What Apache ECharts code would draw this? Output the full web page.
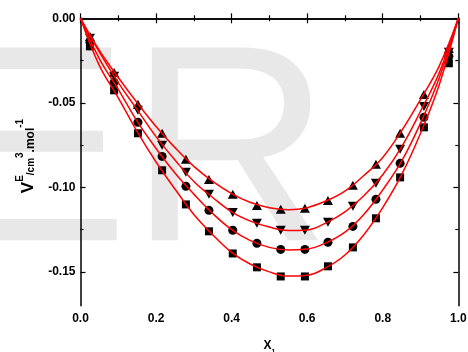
<!DOCTYPE html>
<html><head><meta charset="utf-8">
<script src="https://cdn.jsdelivr.net/npm/echarts@6/dist/echarts.min.js"></script>
<style>html,body{margin:0;padding:0;background:#fff}#c{width:468px;height:352px}</style>
</head><body><div id="c"></div>
<script>
// measured mole fractions
const xPoints = [0.025, 0.089, 0.152, 0.216, 0.279, 0.340, 0.403, 0.467, 0.530, 0.594, 0.655, 0.721, 0.782, 0.846, 0.909, 0.975];
// excess molar volumes for each series (cm3/mol)
const upTriangle   = [-0.0107, -0.0320, -0.0509, -0.0680, -0.0834, -0.0953, -0.1041, -0.1107, -0.1130, -0.1124, -0.1077, -0.0988, -0.0864, -0.0680, -0.0450, -0.0178];
const downTriangle = [-0.0118, -0.0343, -0.0544, -0.0751, -0.0911, -0.1041, -0.1148, -0.1213, -0.1254, -0.1254, -0.1207, -0.1112, -0.0976, -0.0775, -0.0521, -0.0201];
const circlePts    = [-0.0142, -0.0379, -0.0615, -0.0817, -0.0994, -0.1136, -0.1254, -0.1331, -0.1367, -0.1367, -0.1325, -0.1231, -0.1071, -0.0858, -0.0586, -0.0225];
const squarePts    = [-0.0166, -0.0426, -0.0680, -0.0899, -0.1101, -0.1260, -0.1391, -0.1473, -0.1527, -0.1527, -0.1467, -0.1355, -0.1183, -0.0941, -0.0645, -0.0266];
// fitted curves read at these x
const xCurve = [0, 0.05, 0.1, 0.15, 0.2, 0.25, 0.3, 0.35, 0.4, 0.45, 0.5, 0.55, 0.6, 0.65, 0.7, 0.75, 0.8, 0.85, 0.9, 0.95, 1.0];
const curveUp     = [0, -0.019, -0.035, -0.050, -0.064, -0.0765, -0.0876, -0.0965, -0.1037, -0.1090, -0.1120, -0.1132, -0.1120, -0.1080, -0.1022, -0.0930, -0.0823, -0.0665, -0.0480, -0.0280, 0];
const curveDown   = [0, -0.020, -0.038, -0.054, -0.070, -0.0838, -0.0965, -0.1060, -0.1145, -0.1200, -0.1235, -0.1255, -0.1252, -0.1210, -0.1145, -0.1050, -0.0925, -0.0760, -0.0550, -0.0320, 0];
const curveCircle = [0, -0.024, -0.042, -0.061, -0.077, -0.0915, -0.1040, -0.1155, -0.1250, -0.1315, -0.1355, -0.1370, -0.1365, -0.1328, -0.1265, -0.1160, -0.1015, -0.0845, -0.0620, -0.0350, 0];
const curveSquare = [0, -0.028, -0.047, -0.067, -0.085, -0.1010, -0.1160, -0.1280, -0.1385, -0.1455, -0.1500, -0.1525, -0.1520, -0.1475, -0.1400, -0.1280, -0.1120, -0.0925, -0.0680, -0.0390, 0];
// axis ticks
const yMajorTicks = [0, -0.05, -0.10, -0.15];
const yMinorTicks = [-0.025, -0.075, -0.125];
const xTickInterval = 0.2;

const pair = (xs, ys) => xs.map((x, i) => [x, ys[i]]);
const font = '"Liberation Sans", Arial, sans-serif';
const axisLine = { show: true, lineStyle: { color: '#000', width: 1.5 } };

function yAx(position, ticks, len, labels) {
  return {
    type: 'value', position: position, min: -0.17, max: 0,
    axisLine: { show: false },
    axisTick: { show: true, inside: true, length: len, customValues: ticks, lineStyle: { color: '#000', width: 1.2 } },
    axisLabel: labels ? { show: true, customValues: labels, margin: 5, color: '#000', fontFamily: font, fontWeight: 'bold', fontSize: 12,
      formatter: v => v.toFixed(2) } : { show: false },
    splitLine: { show: false }
  };
}

const base = { fontWeight: 'bold', fontFamily: font, color: '#000' };
const yName = {
  name: '{v|V}{sup|E}{cm|/cm}{sup|3}{n|.mol}{sup|-1}',
  nameLocation: 'middle', nameGap: 44, nameRotate: 90,
  nameTextStyle: {
    padding: [0, 0, 0, 12],
    rich: {
      v: Object.assign({ fontSize: 17, verticalAlign: 'bottom', lineHeight: 21 }, base),
      cm: Object.assign({ fontSize: 10, verticalAlign: 'bottom' }, base),
      n: Object.assign({ fontSize: 12, verticalAlign: 'bottom' }, base),
      sup: Object.assign({ fontSize: 10, verticalAlign: 'top' }, base)
    }
  }
};

const yAxes = [
  Object.assign(yAx('left', yMajorTicks, 5, yMajorTicks), yName),
  yAx('left', yMinorTicks, 3, false),
  yAx('right', yMajorTicks, 5, false),
  yAx('right', yMinorTicks, 3, false)
];
yAxes[0].axisLine = axisLine;
yAxes[2].axisLine = axisLine;

function xAx(position, labels) {
  return {
    type: 'value', position: position, min: 0, max: 1, interval: xTickInterval,
    axisLine: axisLine,
    axisTick: { show: true, inside: true, length: 5, lineStyle: { color: '#000', width: 1.2 } },
    minorTick: { show: true, splitNumber: 2, length: 3, lineStyle: { color: '#000', width: 1.2 } },
    axisLabel: labels ? { show: true, margin: 7, color: '#000', fontFamily: font, fontWeight: 'bold', fontSize: 12,
      formatter: v => v.toFixed(1) } : { show: false },
    splitLine: { show: false }
  };
}
const xAxes = [xAx('bottom', true), xAx('top', false)];
Object.assign(xAxes[0], {
  name: '{x|X}{sub|1}', nameLocation: 'middle', nameGap: 34,
  nameTextStyle: { rich: {
    x: Object.assign({ fontSize: 12, verticalAlign: 'top', lineHeight: 16 }, base),
    sub: Object.assign({ fontSize: 7, verticalAlign: 'bottom' }, base)
  } }
});

function curve(ys) {
  return { type: 'line', data: pair(xCurve, ys), smooth: 0.4, showSymbol: false, symbol: 'none',
    lineStyle: { color: '#ff0000', width: 1.5 }, z: 3, silent: true };
}
function pts(ys, symbol, size, rot) {
  return { type: 'scatter', data: pair(xPoints, ys), symbol: symbol, symbolSize: size, symbolRotate: rot || 0,
    itemStyle: { color: '#000', opacity: 1 }, z: 2 };
}

const chart = echarts.init(document.getElementById('c'), null, { renderer: 'canvas' });
chart.setOption({
  animation: false,
  backgroundColor: '#fff',
  graphic: [{ type: 'text', left: -58, top: 23, z: -10, silent: true,
    style: { text: 'ER', font: 'normal 280px "Liberation Sans", Arial, sans-serif', fill: '#e8e8e8' } }],
  grid: { left: 80.5, right: 9.7, top: 18.3, bottom: 46.3, containLabel: false, outerBoundsMode: 'none' },
  xAxis: xAxes,
  yAxis: yAxes,
  series: [
    pts(squarePts, 'rect', 8),
    pts(circlePts, 'circle', 9),
    pts(downTriangle, 'triangle', [10, 9], 180),
    pts(upTriangle, 'triangle', [10, 9]),
    curve(curveSquare), curve(curveCircle), curve(curveDown), curve(curveUp)
  ]
});
</script></body></html>
